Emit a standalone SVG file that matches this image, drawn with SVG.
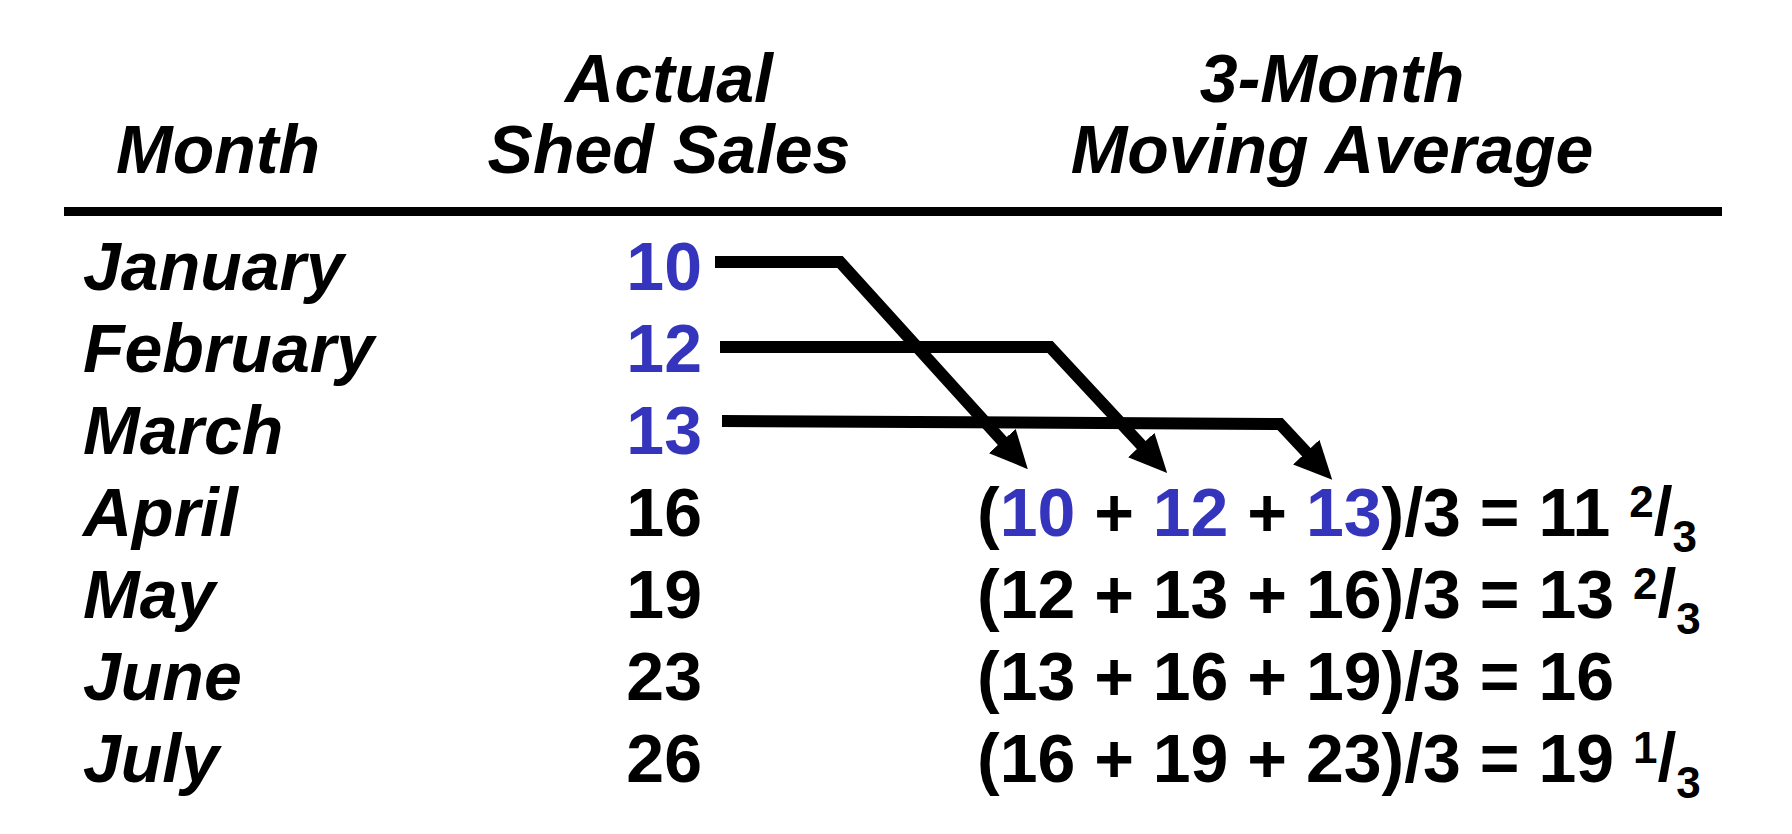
<svg xmlns="http://www.w3.org/2000/svg" width="1792" height="834" viewBox="0 0 1792 834">
<style>
text { font-family: "Liberation Sans", Arial, sans-serif; font-weight: bold; fill: #000; }
.hdr { font-size: 68px; font-style: italic; text-anchor: middle; }
.mon { font-size: 68px; font-style: italic; }
.num { font-size: 68px; text-anchor: end; }
.frm { font-size: 68px; }
.blue { fill: #3434BC; }
.sup { font-size: 44px; }
.conn { fill: none; stroke: #000; stroke-width: 12; stroke-linejoin: miter; marker-end: url(#ah); }
</style>
<defs>
<marker id="ah" markerUnits="userSpaceOnUse" viewBox="0 0 38 36" markerWidth="38" markerHeight="36" refX="4" refY="18" orient="auto">
<path d="M0,0 L38,18 L0,36 z" fill="#000"/>
</marker>
</defs>
<rect width="1792" height="834" fill="#fff"/>
<g id="header">
<text class="hdr" x="218" y="173">Month</text>
<text class="hdr" x="669" y="102">Actual</text>
<text class="hdr" x="669" y="173">Shed Sales</text>
<text class="hdr" x="1332" y="102">3-Month</text>
<text class="hdr" x="1332" y="173">Moving Average</text>
<rect x="64" y="207" width="1658" height="9" fill="#000"/>
</g>
<g id="months">
<text class="mon" x="83" y="290">January</text>
<text class="mon" x="83" y="372">February</text>
<text class="mon" x="83" y="454">March</text>
<text class="mon" x="83" y="536">April</text>
<text class="mon" x="83" y="618">May</text>
<text class="mon" x="83" y="700">June</text>
<text class="mon" x="83" y="782">July</text>
</g>
<g id="sales">
<text class="num blue" x="702" y="290">10</text>
<text class="num blue" x="702" y="372">12</text>
<text class="num blue" x="702" y="454">13</text>
<text class="num" x="702" y="536">16</text>
<text class="num" x="702" y="618">19</text>
<text class="num" x="702" y="700">23</text>
<text class="num" x="702" y="782">26</text>
</g>
<g id="averages">
<text class="frm" x="977" y="536">(<tspan class="blue">10</tspan> + <tspan class="blue">12</tspan> + <tspan class="blue">13</tspan>)/3 = 11 <tspan class="sup" dy="-19">2</tspan><tspan dy="18">/</tspan><tspan class="sup" dy="17">3</tspan></text>
<text class="frm" x="977" y="618">(12 + 13 + 16)/3 = 13 <tspan class="sup" dy="-19">2</tspan><tspan dy="18">/</tspan><tspan class="sup" dy="17">3</tspan></text>
<text class="frm" x="977" y="700">(13 + 16 + 19)/3 = 16</text>
<text class="frm" x="977" y="782">(16 + 19 + 23)/3 = 19 <tspan class="sup" dy="-19">1</tspan><tspan dy="18">/</tspan><tspan class="sup" dy="17">3</tspan></text>
</g>
<g id="connectors">
<path class="conn" d="M715,262 L840,262 L1005,444"/>
<path class="conn" d="M720,347 L1050,347 L1144,448"/>
<path class="conn" d="M722,421 L1280,424 L1309,455"/>
</g>
</svg>
